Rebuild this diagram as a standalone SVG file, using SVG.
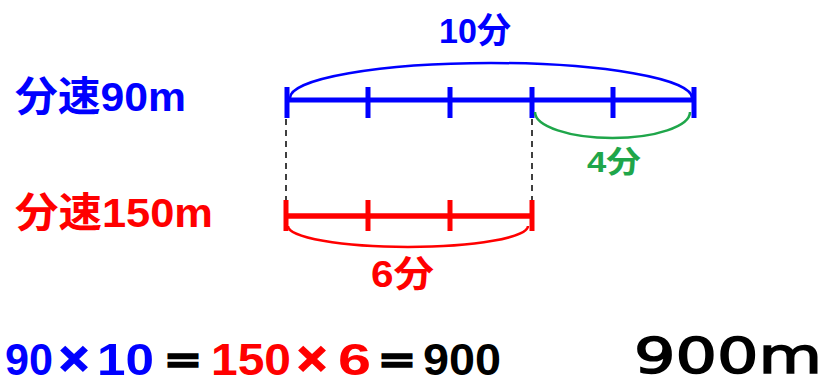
<svg xmlns="http://www.w3.org/2000/svg" width="824" height="385" viewBox="0 0 824 385">
<style>
.t{font-family:"Liberation Sans","Noto Sans CJK JP",sans-serif;font-weight:bold}
.blue{fill:#0000ff}
.red{fill:#ff0000}
.green{fill:#1fa64a}
.blk{fill:#000}
.bl{stroke:#0000ff;fill:none}
.rl{stroke:#ff0000;fill:none}
.gl{stroke:#1fa64a;fill:none}
.dash{stroke:#000;stroke-width:1.5;stroke-dasharray:6 5;fill:none}
.eq{font-family:"Noto Sans CJK JP",sans-serif;stroke:#000;stroke-width:2.4}
</style>
<rect width="824" height="385" fill="#fff"/>
<g id="connectors">
<path class="dash" d="M286,119 V200"/>
<path class="dash" d="M532,119 V200"/>
</g>
<g id="line90">
<path class="bl" stroke-width="5" d="M287,100 H694"/>
<path class="bl" stroke-width="5" d="M287,87 V118 M368,87 V118 M450,87 V118 M532,87 V118 M613,87 V118 M694,87 V118"/>
</g>
<g id="arc10">
<path class="bl" stroke-width="2.5" d="M290,98 A201,35 0 0 1 692,98"/>
<text class="t blue" x="439" y="43" font-size="35" textLength="72" lengthAdjust="spacingAndGlyphs">10分</text>
</g>
<g id="arc4">
<path class="gl" stroke-width="2.5" d="M535,112 A77.5,26 0 0 0 690,112"/>
<text class="t green" x="587" y="172" font-size="30" textLength="54" lengthAdjust="spacingAndGlyphs">4分</text>
</g>
<g id="line150">
<path class="rl" stroke-width="5.5" d="M286,216 H532"/>
<path class="rl" stroke-width="5" d="M286,200 V231 M368,200 V231 M450,200 V231 M532,200 V231"/>
</g>
<g id="arc6">
<path class="rl" stroke-width="2.5" d="M288,226 A120,21 0 0 0 528,226"/>
<text class="t red" x="371" y="287" font-size="36" textLength="63" lengthAdjust="spacingAndGlyphs">6分</text>
</g>
<g id="label90">
<text class="t blue" x="15" y="111" font-size="41" textLength="171" lengthAdjust="spacingAndGlyphs">分速90m</text>
</g>
<g id="label150">
<text class="t red" x="15" y="227" font-size="41" textLength="198" lengthAdjust="spacingAndGlyphs">分速150m</text>
</g>
<g id="equation">
<text class="t" y="375" font-size="45"><tspan class="blue" x="5" textLength="48" lengthAdjust="spacingAndGlyphs">90</tspan><tspan class="blue" x="59" y="374.5" font-size="48" stroke="#0000ff" stroke-width="1.5" textLength="30" lengthAdjust="spacingAndGlyphs">×</tspan><tspan class="blue" x="97" y="375" textLength="57" lengthAdjust="spacingAndGlyphs">10</tspan><tspan class="blk eq" x="163" y="374.5" font-size="36" textLength="40" lengthAdjust="spacingAndGlyphs">＝</tspan><tspan class="red" x="211" y="375" textLength="80" lengthAdjust="spacingAndGlyphs">150</tspan><tspan class="red" x="297" y="374.5" font-size="48" stroke="#ff0000" stroke-width="1.5" textLength="30" lengthAdjust="spacingAndGlyphs">×</tspan><tspan class="red" x="338" y="375" textLength="33" lengthAdjust="spacingAndGlyphs">6</tspan><tspan class="blk eq" x="377" y="374.5" font-size="36" textLength="40" lengthAdjust="spacingAndGlyphs">＝</tspan><tspan class="blk" x="423" y="375" textLength="78" lengthAdjust="spacingAndGlyphs">900</tspan></text>
</g>
<g id="answer">
<text x="634" y="373" font-family="DejaVu Sans" font-size="50" stroke="#000" stroke-width="1.5" textLength="188" lengthAdjust="spacingAndGlyphs" class="blk">900m</text>
</g>
</svg>
